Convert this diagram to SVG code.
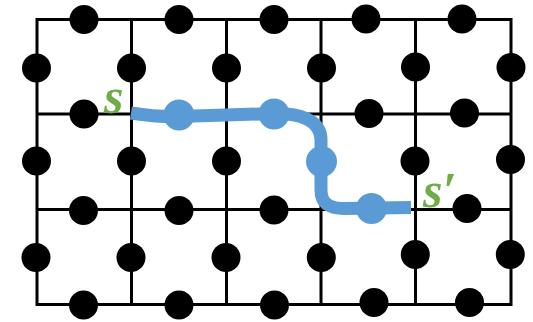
<svg xmlns="http://www.w3.org/2000/svg" width="533" height="322" viewBox="0 0 533 322">
<style>
.g{stroke:#000;stroke-width:3;fill:none;stroke-linecap:square}
.b{fill:#000}
.u{fill:#5B9BD5}
.lbl{font-family:"Liberation Serif",serif;font-style:italic;font-weight:bold;font-size:50px;fill:#70AD47}
</style>
<rect width="533" height="322" fill="#fff"/>
<g id="connectors">
<path class="g" d="M37,19.5H511V304.5H37Z M37,114H511 M37,209.5H511 M131.5,19.5V304.5 M226.5,19.5V304.5 M321,19.5V304.5 M415.5,19.5V304.5"/>
</g>
<g id="nodes">
<g id="n1"><circle class="b" cx="84" cy="19.5" r="14.5"/></g>
<g id="n2"><circle class="b" cx="179" cy="19.5" r="14.5"/></g>
<g id="n3"><circle class="b" cx="274" cy="19.5" r="14.5"/></g>
<g id="n4"><circle class="b" cx="366" cy="19" r="14.5"/></g>
<g id="n5"><circle class="b" cx="462" cy="19" r="14.5"/></g>
<g id="n6"><circle class="b" cx="36.5" cy="68" r="14.5"/></g>
<g id="n7"><circle class="b" cx="131.5" cy="68" r="14.5"/></g>
<g id="n8"><circle class="b" cx="226.5" cy="68" r="14.5"/></g>
<g id="n9"><circle class="b" cx="321.5" cy="68" r="14.5"/></g>
<g id="n10"><circle class="b" cx="415.5" cy="67" r="14.5"/></g>
<g id="n11"><circle class="b" cx="511" cy="67.5" r="14.5"/></g>
<g id="n12"><circle class="b" cx="84" cy="114" r="14.5"/></g>
<g id="n13"><circle class="b" cx="369" cy="113.5" r="14.5"/></g>
<g id="n14"><circle class="b" cx="464.5" cy="113" r="14.5"/></g>
<g id="n15"><circle class="b" cx="36.5" cy="161" r="14.5"/></g>
<g id="n16"><circle class="b" cx="131.5" cy="161" r="14.5"/></g>
<g id="n17"><circle class="b" cx="226.5" cy="161" r="14.5"/></g>
<g id="n18"><circle class="b" cx="415" cy="161" r="14.5"/></g>
<g id="n19"><circle class="b" cx="510.5" cy="159.5" r="14.5"/></g>
<g id="n20"><circle class="b" cx="83.5" cy="210.5" r="14.5"/></g>
<g id="n21"><circle class="b" cx="179" cy="210.5" r="14.5"/></g>
<g id="n22"><circle class="b" cx="274" cy="210" r="14.5"/></g>
<g id="n23"><circle class="b" cx="467" cy="208.5" r="14.5"/></g>
<g id="n24"><circle class="b" cx="36" cy="257.5" r="14.5"/></g>
<g id="n25"><circle class="b" cx="131" cy="257.5" r="14.5"/></g>
<g id="n26"><circle class="b" cx="226" cy="257.5" r="14.5"/></g>
<g id="n27"><circle class="b" cx="321.3" cy="257.5" r="14.5"/></g>
<g id="n28"><circle class="b" cx="415.3" cy="254.5" r="14.5"/></g>
<g id="n29"><circle class="b" cx="510.3" cy="254.5" r="14.5"/></g>
<g id="n30"><circle class="b" cx="83.5" cy="305" r="14.5"/></g>
<g id="n31"><circle class="b" cx="179" cy="305" r="14.5"/></g>
<g id="n32"><circle class="b" cx="274.5" cy="305" r="14.5"/></g>
<g id="n33"><circle class="b" cx="374" cy="302.5" r="14.5"/></g>
<g id="n34"><circle class="b" cx="469.5" cy="302.5" r="14.5"/></g>
</g>
<g id="path">
<path d="M131,113 C150,116 165,117 179,116.5 L274,113.5 C300,113 321,120 321,140 L321,190 C321,204 330,208.5 345,208.5 L411,207.5" fill="none" stroke="#5B9BD5" stroke-width="13"/>
<g id="p1"><circle class="u" cx="179" cy="115" r="15.5"/></g>
<g id="p2"><circle class="u" cx="274" cy="114" r="15.5"/></g>
<g id="p3"><circle class="u" cx="321.5" cy="161.5" r="15.5"/></g>
<g id="p4"><circle class="u" cx="371.5" cy="208.5" r="15.5"/></g>
</g>
<g id="labels">
<text class="lbl" x="104" y="113">s</text>
<text class="lbl" x="423" y="206.5">s′</text>
</g>
</svg>
